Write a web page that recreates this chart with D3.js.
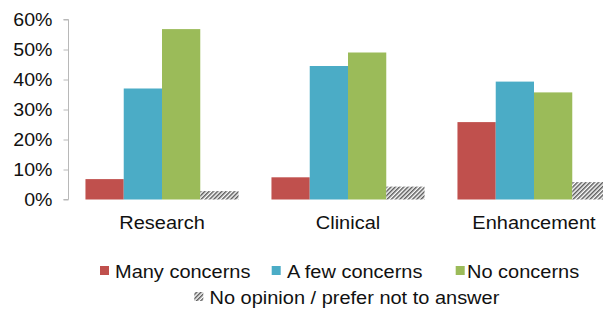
<!DOCTYPE html>
<html>
<head>
<meta charset="utf-8">
<script src="https://cdn.jsdelivr.net/npm/d3@7"></script>
<style>
  html, body { margin: 0; padding: 0; background: #fff; }
  svg { display: block; }
  text { font-family: "Liberation Sans", Arial, sans-serif; fill: #111; }
</style>
</head>
<body>
<svg id="chart" width="603" height="316"></svg>
<script>
const categories = ["Research", "Clinical", "Enhancement"];
const seriesNames = ["Many concerns", "A few concerns", "No concerns", "No opinion / prefer not to answer"];
const manyConcerns = [0.068, 0.074, 0.258];
const fewConcerns = [0.370, 0.445, 0.393];
const noConcerns = [0.568, 0.490, 0.357];
const noOpinion = [0.028, 0.043, 0.058];
const yTicks = [0, 0.1, 0.2, 0.3, 0.4, 0.5, 0.6];

const seriesValues = [manyConcerns, fewConcerns, noConcerns, noOpinion];
const colors = ["#C0504D", "#4BACC6", "#9BBB59", "url(#hatch)"];

const svg = d3.select("#chart");

const defs = svg.append("defs");
const pat = defs.append("pattern")
  .attr("id", "hatch").attr("patternUnits", "userSpaceOnUse")
  .attr("width", 3).attr("height", 3)
  .attr("patternTransform", "rotate(45)");
pat.append("rect").attr("width", 3).attr("height", 3).attr("fill", "#fff");
pat.append("rect").attr("width", 1.5).attr("height", 3).attr("fill", "#5a5a5a");

const x0 = d3.scaleBand().domain(categories).range([69, 627])
  .paddingInner(0.177).paddingOuter(0.0885);
const x1 = d3.scaleBand().domain(d3.range(seriesNames.length)).range([0, x0.bandwidth()]);
const y = d3.scaleLinear().domain([0, 0.6]).range([199.5, 19.5]);

// bars
const groups = svg.append("g").selectAll("g").data(categories).join("g")
  .attr("transform", d => `translate(${x0(d)},0)`);
groups.selectAll("rect")
  .data((c, ci) => seriesValues.map((vals, si) => ({ si, v: vals[ci] })))
  .join("rect")
  .attr("x", d => x1(d.si))
  .attr("width", x1.bandwidth())
  .attr("y", d => y(d.v))
  .attr("height", d => y(0) - y(d.v))
  .attr("fill", d => colors[d.si]);

// y axis
const yAxis = d3.axisLeft(y).tickValues(yTicks).tickFormat(d3.format(".0%"))
  .tickSize(5).tickPadding(11);
const ga = svg.append("g").attr("transform", "translate(68.5,0)").call(yAxis);
ga.select(".domain").attr("stroke", "#b8b8b8").attr("d", "M-5,19.5H0V199.5H-5");
ga.selectAll(".tick line").attr("stroke", "#b8b8b8");
ga.selectAll(".tick text")
  .attr("font-size", 17.5)
  .attr("fill", "#111")
  .attr("font-family", "Liberation Sans, Arial, sans-serif")
  .each(function() {
    const t = d3.select(this);
    const xx = +t.attr("x");
    t.attr("x", null).attr("transform", `translate(${xx},0) scale(1.12,1)`);
  });

// category labels
svg.append("g").selectAll("text").data(categories).join("text")
  .attr("transform", d => `translate(${x0(d) + x0.bandwidth() / 2},229) scale(1.08,1)`)
  .attr("text-anchor", "middle")
  .attr("font-size", 18.5)
  .text(d => d);

// legend
const legendPos = [
  { sx: 100, tx: 115, y: 278 },
  { sx: 271.7, tx: 287, y: 278 },
  { sx: 455.7, tx: 467, y: 278 },
  { sx: 194.3, tx: 209.5, y: 304 }
];
const lg = svg.append("g").selectAll("g").data(seriesNames).join("g");
lg.append("rect")
  .attr("x", (d, i) => legendPos[i].sx)
  .attr("y", (d, i) => legendPos[i].y - 12)
  .attr("width", 9).attr("height", 9)
  .attr("fill", (d, i) => colors[i]);
lg.append("text")
  .attr("transform", (d, i) => `translate(${legendPos[i].tx},${legendPos[i].y}) scale(1.08,1)`)
  .attr("font-size", 18.5)
  .text(d => d);
</script>
</body>
</html>
